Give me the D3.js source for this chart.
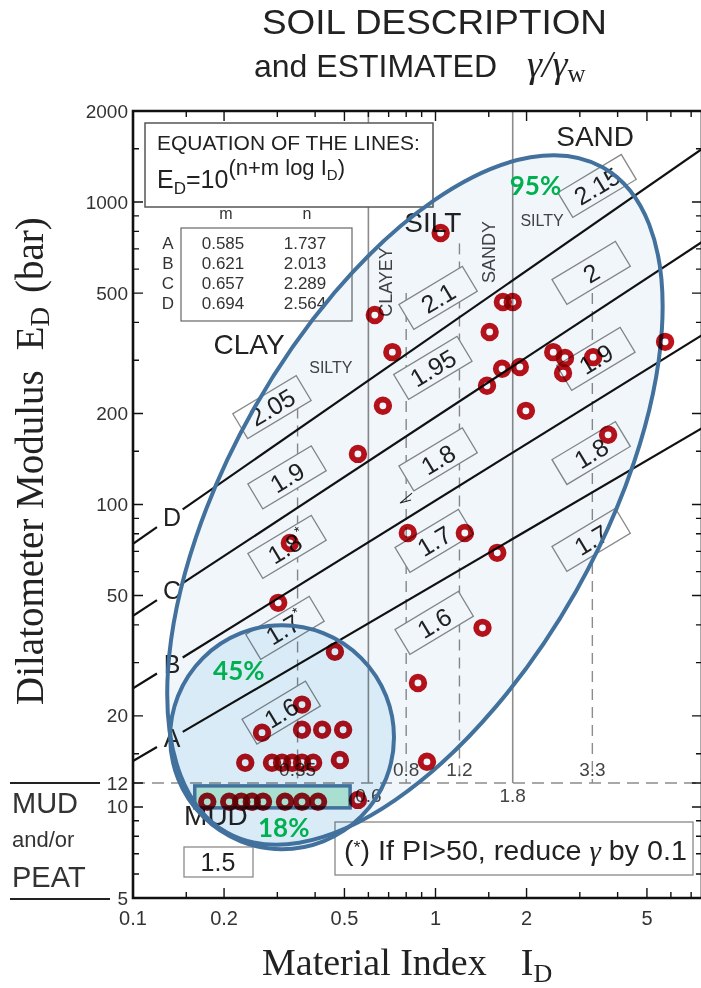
<!DOCTYPE html>
<html lang="en">
<head>
<meta charset="UTF-8">
<title>Soil description and estimated unit weight</title>
<script src="https://cdn.jsdelivr.net/npm/d3@7"></script>
<style>
  body { margin: 0; background: #fff; }
  svg { display: block; font-family: "Liberation Sans", Arial, sans-serif; }
  .serif { font-family: "Liberation Serif", "Times New Roman", serif; }
</style>
</head>
<body>
<svg width="701" height="988"></svg>
<script>
// E_D = 10^(n + m log I_D)
const lineNames = ["A", "B", "C", "D"];
const lineM = [0.585, 0.621, 0.657, 0.694];
const lineN = [1.737, 2.013, 2.289, 2.564];

const xTickLabels = [0.1, 0.2, 0.5, 1, 2, 5];
const xMinorTicks = [0.15, 0.3, 0.4, 0.6, 0.7, 0.8, 0.9, 1.5, 3, 4, 6, 7];
const yTickLabels = [5, 10, 12, 20, 50, 100, 200, 500, 1000, 2000];
const yMinorTicks = [6, 7, 8, 9, 15, 30, 40, 60, 70, 80, 90, 150, 300, 400, 600, 700, 800, 900, 1500];

// soil class boundaries on I_D
const boundSolid = [0.6, 1.8];
const boundDashed = [0.35, 0.8, 1.2, 3.3];
const boundDashedTop = [240, 500, 730, 500];
const boundLabels = ["0.6", "1.8"];
const boundDashedLabels = ["0.35", "0.8", "1.2", "3.3"];
const mudLimit = 12;

// estimated gamma/gamma_w boxes
const gammaText = ["2.05", "1.9", "1.8*", "1.7*", "1.6", "2.1", "1.95", "1.8", "1.7", "1.6", "2.15", "2", "1.9", "1.8", "1.7"];
const gammaID = [0.288, 0.323, 0.323, 0.318, 0.309, 1.02, 0.98, 1.02, 0.99, 0.99, 3.42, 3.27, 3.39, 3.27, 3.27];
const gammaED = [210, 123, 72.4, 39.1, 20.5, 482, 283, 141, 75.8, 40.6, 1130, 583, 303, 148, 76.4];

// zone names
const zoneText = ["CLAY", "SILTY", "SILT", "SAND", "SILTY", "CLAYEY", "SANDY", "MUD"];
const zoneID = [0.242, 0.451, 0.98, 3.37, 2.25, 0.686, 1.50, 0.188];
const zoneED = [337, 283, 859, 1641, 866, 544, 684, 9.4];

// measured points
const pointID = [1.04, 0.63, 0.72, 1.51, 1.67, 1.80, 1.66, 1.90, 1.48, 2.45, 2.68, 2.64, 3.32, 5.74,
  1.99, 0.67, 0.554, 3.72, 0.81, 1.25, 1.60, 0.330, 0.302, 0.465, 1.43, 0.875, 0.362,
  0.267, 0.362, 0.422, 0.495, 0.235, 0.288, 0.311, 0.336, 0.362, 0.394, 0.483, 0.937, 0.554,
  0.176, 0.208, 0.228, 0.247, 0.269, 0.318, 0.362, 0.409];
const pointED = [790, 423, 319, 372, 467, 467, 281, 285, 247, 319, 305, 272, 307, 345,
  204, 212, 147, 170, 80.5, 80.5, 69.2, 74.6, 47.3, 32.6, 39.1, 25.7, 21.8,
  17.6, 18, 18, 18, 14, 14, 14, 14, 14, 14, 14.3, 14.1, 10.55,
  10.4, 10.4, 10.4, 10.4, 10.4, 10.4, 10.4, 10.4];

// highlighted groups (percent of points)
const groupLabels = ["95%", "45%", "18%"];
const groupLabelID = [1.76, 0.184, 0.259];
const groupLabelED = [1055, 26.3, 7.96];
const bigEllipse = {id: 0.855, ed: 103.5, rx: 1.263, ry: 0.612, angle: -60.5};   // radii in decades
const smallCircle = {id: 0.311, ed: 17.0, r: 0.37};
const mudBox = {id0: 0.160, id1: 0.522, ed0: 9.93, ed1: 11.74};

const svg = d3.select("svg");
const x = d3.scaleLog().domain([0.1, 10]).range([133, 738]);
const y = d3.scaleLog().domain([5, 2000]).range([898, 111]);
const xEnd = 7.6;
const dec = x(1) - x(0.1);
const X0 = x(0.1), X1 = x(xEnd), Y0 = y(5), Y1 = y(2000);

svg.append("rect").attr("width", 701).attr("height", 988).attr("fill", "#fff");

svg.append("clipPath").attr("id", "plotClip").append("rect")
  .attr("x", X0).attr("y", Y1).attr("width", X1 - X0).attr("height", Y0 - Y1);

const plot = svg.append("g").attr("clip-path", "url(#plotClip)");

// boundaries
plot.selectAll(".bs").data(boundSolid).join("line")
  .attr("x1", d => x(d)).attr("x2", d => x(d))
  .attr("y1", Y1).attr("y2", y(mudLimit))
  .attr("stroke", "#8c8c8c").attr("stroke-width", 1.6);
plot.selectAll(".bd").data(boundDashed).join("line")
  .attr("x1", d => x(d)).attr("x2", d => x(d))
  .attr("y1", (d, i) => y(boundDashedTop[i])).attr("y2", y(mudLimit))
  .attr("stroke", "#8c8c8c").attr("stroke-width", 1.4).attr("stroke-dasharray", "11,7");
plot.append("line")
  .attr("x1", X0).attr("x2", X1).attr("y1", y(mudLimit)).attr("y2", y(mudLimit))
  .attr("stroke", "#8c8c8c").attr("stroke-width", 1.4).attr("stroke-dasharray", "12,7");

plot.selectAll(".bl").data(boundSolid).join("text")
  .attr("x", d => x(d)).attr("y", y(mudLimit) + 19)
  .attr("text-anchor", "middle").attr("font-size", 19).attr("fill", "#444")
  .text((d, i) => boundLabels[i]);
plot.selectAll(".bdl").data(boundDashed).join("text")
  .attr("x", d => x(d)).attr("y", y(mudLimit) - 7)
  .attr("text-anchor", "middle").attr("font-size", 19).attr("fill", "#444")
  .text((d, i) => boundDashedLabels[i]);

// lines A-D
const lineVal = (i, v) => Math.pow(10, lineN[i] + lineM[i] * Math.log10(v));
const path = d3.line().x(d => x(d[0])).y(d => y(d[1]));
lineNames.forEach((name, i) => {
  plot.append("path").attr("d", path([[0.1, lineVal(i, 0.1)], [0.12, lineVal(i, 0.12)]]))
    .attr("fill", "none").attr("stroke", "#111").attr("stroke-width", 2.2);
  plot.append("path").attr("d", path([[0.146, lineVal(i, 0.146)], [xEnd, lineVal(i, xEnd)]]))
    .attr("fill", "none").attr("stroke", "#111").attr("stroke-width", 2.2);
  plot.append("text").attr("x", x(0.1346)).attr("y", y(lineVal(i, 0.1346)))
    .attr("text-anchor", "middle").attr("dominant-baseline", "central")
    .attr("font-size", 25).attr("fill", "#222").text(name);
});

// equation box and table
const eq = svg.append("g");
eq.append("rect").attr("x", 145).attr("y", 123).attr("width", 288).attr("height", 84)
  .attr("fill", "#fff").attr("stroke", "#555").attr("stroke-width", 1.5);
eq.append("text").attr("x", 157).attr("y", 150).attr("font-size", 21).attr("fill", "#222")
  .text("EQUATION OF THE LINES:");
const eqt = eq.append("text").attr("x", 157).attr("y", 188).attr("font-size", 25).attr("fill", "#222");
eqt.append("tspan").text("E");
eqt.append("tspan").attr("font-size", 17).attr("dy", 6).text("D");
eqt.append("tspan").attr("dy", -6).text("=10");
eqt.append("tspan").attr("font-size", 22).attr("dy", -13).text("(n+m  log I");
eqt.append("tspan").attr("font-size", 15).attr("dy", 5).text("D");
eqt.append("tspan").attr("font-size", 22).attr("dy", -5).text(")");

eq.append("text").attr("x", 226).attr("y", 219).attr("text-anchor", "middle").attr("font-size", 16).attr("fill", "#333").text("m");
eq.append("text").attr("x", 307).attr("y", 219).attr("text-anchor", "middle").attr("font-size", 16).attr("fill", "#333").text("n");
eq.append("rect").attr("x", 181).attr("y", 228).attr("width", 171).attr("height", 93)
  .attr("fill", "#fff").attr("stroke", "#666").attr("stroke-width", 1.2);
lineNames.forEach((name, i) => {
  const by = 249 + i * 20;
  eq.append("text").attr("x", 168).attr("y", by).attr("text-anchor", "middle").attr("font-size", 17).attr("fill", "#333").text(name);
  eq.append("text").attr("x", 223).attr("y", by).attr("text-anchor", "middle").attr("font-size", 17).attr("fill", "#333").text(lineM[i].toFixed(3));
  eq.append("text").attr("x", 305).attr("y", by).attr("text-anchor", "middle").attr("font-size", 17).attr("fill", "#333").text(lineN[i].toFixed(3));
});

// gamma boxes
const gb = plot.selectAll(".gb").data(gammaText).join("g")
  .attr("transform", (d, i) => `translate(${x(gammaID[i])},${y(gammaED[i])}) rotate(-31)`);
gb.append("rect").attr("x", -37).attr("y", -14.5).attr("width", 74).attr("height", 29)
  .attr("fill", "#fff").attr("stroke", "#8a8a8a").attr("stroke-width", 1.3);
gb.append("text").attr("text-anchor", "middle").attr("dominant-baseline", "central")
  .attr("font-size", 25).attr("fill", "#222")
  .each(function (d) {
    const t = d3.select(this);
    const star = d.endsWith("*");
    t.append("tspan").text(star ? d.slice(0, -1) : d);
    if (star) t.append("tspan").attr("font-size", 14).attr("dy", -8).text("*");
  });

// the MUD box (not rotated)
svg.append("rect").attr("x", 184).attr("y", 847).attr("width", 69).attr("height", 30)
  .attr("fill", "#fff").attr("stroke", "#8a8a8a").attr("stroke-width", 1.3);
svg.append("text").attr("x", 218).attr("y", 862).attr("text-anchor", "middle")
  .attr("dominant-baseline", "central").attr("font-size", 25).attr("fill", "#222").text("1.5");

// zone names
const bigZone = new Set(["CLAY", "SILT", "SAND", "MUD"]);
const vertZone = new Set(["CLAYEY", "SANDY"]);
plot.selectAll(".zn").data(zoneText).join("text")
  .attr("transform", (d, i) => `translate(${x(zoneID[i])},${y(zoneED[i])})` + (vertZone.has(d) ? " rotate(-90)" : ""))
  .attr("text-anchor", "middle").attr("dominant-baseline", "central")
  .attr("font-size", d => bigZone.has(d) ? 28 : (vertZone.has(d) ? 18 : 16))
  .attr("fill", d => bigZone.has(d) ? "#222" : "#444")
  .text(d => d);

// small chevron mark
svg.append("path")
  .attr("transform", `translate(${x(0.781)},${y(105)})`)
  .attr("d", "M9,-5 L-3,5 L8,2").attr("fill", "none").attr("stroke", "#222").attr("stroke-width", 1.1);

// frame and ticks
const fr = svg.append("g").attr("stroke", "#111");
fr.append("path").attr("d", `M${X1},${Y1} H${X0} V${Y0} H${X1}`).attr("fill", "none").attr("stroke-width", 2.6);
fr.append("line").attr("x1", X1).attr("x2", X1).attr("y1", Y1).attr("y2", Y0).attr("stroke-width", 2.6);
const yTicks = yTickLabels.map(v => [v, 10]).concat(yMinorTicks.map(v => [v, 6]));
const xTicks = xTickLabels.map(v => [v, 10]).concat(xMinorTicks.map(v => [v, 6]));
fr.selectAll(".yt").data(yTicks).join("path")
  .attr("d", d => `M${X0},${y(d[0])}h${d[1]}M${X1},${y(d[0])}h${-d[1]}`).attr("stroke-width", 1.4);
fr.selectAll(".xt").data(xTicks).join("path")
  .attr("d", d => `M${x(d[0])},${Y0}v${-d[1]}M${x(d[0])},${Y1}v${d[1]}`).attr("stroke-width", 1.4);

svg.selectAll(".yl").data(yTickLabels).join("text")
  .attr("x", 128).attr("y", d => y(d)).attr("text-anchor", "end").attr("dominant-baseline", "central")
  .attr("font-size", 19).attr("fill", "#333").text(d => d);
svg.selectAll(".xl").data(xTickLabels).join("text")
  .attr("x", d => x(d)).attr("y", 925).attr("text-anchor", "middle")
  .attr("font-size", 20).attr("fill", "#333").text(d => d);

// MUD and/or PEAT at the left
const side = svg.append("g").attr("fill", "#333");
side.append("line").attr("x1", 10).attr("x2", 100).attr("y1", y(mudLimit)).attr("y2", y(mudLimit)).attr("stroke", "#222").attr("stroke-width", 2);
side.append("line").attr("x1", 10).attr("x2", 110).attr("y1", Y0 + 1).attr("y2", Y0 + 1).attr("stroke", "#222").attr("stroke-width", 2);
side.append("text").attr("x", 12).attr("y", 813).attr("font-size", 29).text("MUD");
side.append("text").attr("x", 12).attr("y", 847).attr("font-size", 22).text("and/or");
side.append("text").attr("x", 12).attr("y", 887).attr("font-size", 29).text("PEAT");

// note box
svg.append("rect").attr("x", 335).attr("y", 822).attr("width", 358).attr("height", 53)
  .attr("fill", "#fff").attr("stroke", "#888").attr("stroke-width", 1.3);
const note = svg.append("text").attr("x", 344).attr("y", 860).attr("font-size", 27).attr("fill", "#222")
  .attr("textLength", 343).attr("lengthAdjust", "spacingAndGlyphs");
note.append("tspan").text("(");
note.append("tspan").attr("font-size", 17).attr("dy", -7).text("*");
note.append("tspan").attr("dy", 7).text(") If PI>50, reduce ");
note.append("tspan").attr("class", "serif").attr("font-style", "italic").text("γ");
note.append("tspan").text("  by 0.1");

// titles
svg.append("text").attr("x", 262).attr("y", 34)
  .attr("font-size", 35).attr("fill", "#222")
  .attr("textLength", 345).attr("lengthAdjust", "spacingAndGlyphs").text("SOIL DESCRIPTION");
const t2 = svg.append("text").attr("x", 254).attr("y", 77).attr("fill", "#222");
t2.append("tspan").attr("font-size", 32).text("and ESTIMATED");
t2.append("tspan").attr("class", "serif").attr("font-style", "italic").attr("font-size", 38).attr("dx", 30).text("γ/γ");
t2.append("tspan").attr("class", "serif").attr("font-size", 25).attr("dy", 5).text("w");

const yl = svg.append("text").attr("class", "serif").attr("transform", "translate(43,705) rotate(-90)")
  .attr("font-size", 39).attr("fill", "#222");
yl.append("tspan").text("Dilatometer Modulus");
yl.append("tspan").attr("dx", 20).text("E");
yl.append("tspan").attr("font-size", 27).attr("dy", 6).text("D");
yl.append("tspan").attr("dy", -6).attr("dx", 14).text("(bar)");

const xl = svg.append("text").attr("class", "serif").attr("x", 262).attr("y", 975)
  .attr("font-size", 38).attr("fill", "#222");
xl.append("tspan").text("Material Index");
xl.append("tspan").attr("dx", 34).text("I");
xl.append("tspan").attr("font-size", 26).attr("dy", 7).text("D");

// highlight overlays (tints multiply so black stays black)
const ov = svg.append("g");
const ellT = `translate(${x(bigEllipse.id)},${y(bigEllipse.ed)}) rotate(${bigEllipse.angle})`;
ov.append("ellipse").attr("transform", ellT)
  .attr("rx", bigEllipse.rx * dec).attr("ry", bigEllipse.ry * dec)
  .attr("fill", "#f1f6fb").style("mix-blend-mode", "multiply");
ov.append("circle")
  .attr("cx", x(smallCircle.id)).attr("cy", y(smallCircle.ed)).attr("r", smallCircle.r * dec)
  .attr("fill", "#e6f4fb").style("mix-blend-mode", "multiply");
ov.append("rect").attr("x", x(mudBox.id0)).attr("y", y(mudBox.ed1))
  .attr("width", x(mudBox.id1) - x(mudBox.id0)).attr("height", y(mudBox.ed0) - y(mudBox.ed1))
  .attr("fill", "#a9dfd1").attr("stroke", "#41719c").attr("stroke-width", 3.5);
ov.append("ellipse").attr("transform", ellT)
  .attr("rx", bigEllipse.rx * dec).attr("ry", bigEllipse.ry * dec)
  .attr("fill", "none").attr("stroke", "#41719c").attr("stroke-width", 4);
ov.append("circle")
  .attr("cx", x(smallCircle.id)).attr("cy", y(smallCircle.ed)).attr("r", smallCircle.r * dec)
  .attr("fill", "none").attr("stroke", "#41719c").attr("stroke-width", 4);

// points
svg.append("g").selectAll("circle").data(pointID).join("circle")
  .attr("cx", d => x(d)).attr("cy", (d, i) => y(pointED[i])).attr("r", 6.3)
  .attr("fill", "none").attr("stroke", "#bf121b").attr("stroke-width", 5.8)
  .style("mix-blend-mode", "multiply");

svg.selectAll(".pct").data(groupLabels).join("text")
  .attr("x", (d, i) => x(groupLabelID[i])).attr("y", (d, i) => y(groupLabelED[i]))
  .attr("font-family", "Lato, 'Noto Sans', sans-serif").attr("font-weight", "bold")
  .attr("font-size", 26).attr("fill", "#00b050").text(d => d);
</script>
</body>
</html>
